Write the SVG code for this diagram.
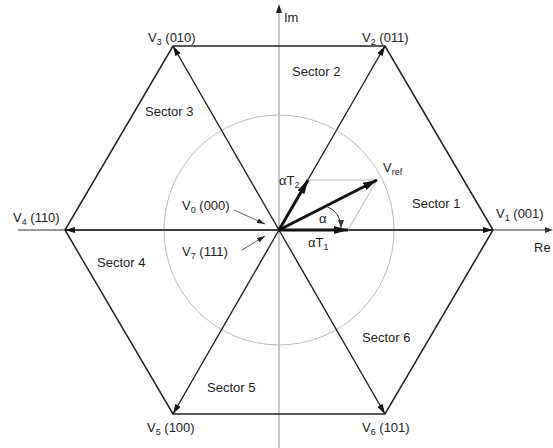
<svg xmlns="http://www.w3.org/2000/svg" width="553" height="448" viewBox="0 0 553 448">
<defs>
<marker id="ah" viewBox="0 0 10 6" refX="10" refY="3" markerWidth="10" markerHeight="6" markerUnits="userSpaceOnUse" orient="auto">
<path d="M0,0 L10,3 L0,6 Z" fill="#111"/>
</marker>
<marker id="ahb" viewBox="0 0 14 8" refX="14" refY="4" markerWidth="14" markerHeight="8" markerUnits="userSpaceOnUse" orient="auto">
<path d="M0,0 L14,4 L0,8 Z" fill="#111"/>
</marker>
<marker id="ahs" viewBox="0 0 8 5" refX="8" refY="2.5" markerWidth="8" markerHeight="5" markerUnits="userSpaceOnUse" orient="auto">
<path d="M0,0 L8,2.5 L0,5 Z" fill="#222"/>
</marker>
<marker id="ahg" viewBox="0 0 8 6" refX="8" refY="3" markerWidth="8" markerHeight="6" markerUnits="userSpaceOnUse" orient="auto">
<path d="M0,0 L8,3 L0,6 Z" fill="#333"/>
</marker>
</defs>
<style>
text{font-family:"Liberation Sans",Arial,sans-serif;font-size:13px;fill:#222}
.sub{font-size:9px}
.edge{fill:none;stroke:#222;stroke-width:1.5}
.spoke{stroke:#222;stroke-width:1.4;marker-end:url(#ah)}
.thick{stroke:#111;stroke-width:3;marker-end:url(#ahb)}
.gray{fill:none;stroke:#bbb;stroke-width:1}
.lbl{stroke:#333;stroke-width:0.8;fill:none;marker-end:url(#ahs)}
</style>
<g id="axes">
<line x1="279" y1="448" x2="279" y2="12" stroke="#c8c8c8" stroke-width="2"/>
<path d="M279,4 L282,13 L276,13 Z" fill="#222"/>
<line x1="18" y1="230" x2="546" y2="230" stroke="#333" stroke-width="1"/>
<path d="M553,230 L545,227 L545,233 Z" fill="#333"/>
<text x="284" y="22">Im</text>
<text x="534" y="252">Re</text>
</g>
<g id="circle"><circle cx="279" cy="230" r="115" class="gray"/></g>
<g id="hexagon"><polygon class="edge" points="493,230 385,46 173,46 65,230 173,414 385,414"/></g>
<g id="connectors">
<line class="spoke" x1="279" y1="230" x2="493" y2="230"/>
<line class="spoke" x1="279" y1="230" x2="385" y2="46"/>
<line class="spoke" x1="279" y1="230" x2="173" y2="46"/>
<line class="spoke" x1="279" y1="230" x2="65" y2="230"/>
<line class="spoke" x1="279" y1="230" x2="173" y2="414"/>
<line class="spoke" x1="279" y1="230" x2="385" y2="414"/>
<line class="gray" x1="308" y1="180" x2="377" y2="180"/>
<line class="gray" x1="348" y1="230" x2="377" y2="180"/>
<line class="thick" x1="279" y1="230" x2="348" y2="230"/>
<line class="thick" x1="279" y1="230" x2="308" y2="180"/>
<line class="thick" x1="279" y1="230" x2="377" y2="180"/>
<path d="M326,206 Q341,212 341,228" fill="none" stroke="#333" stroke-width="1" marker-end="url(#ahg)"/>
<line class="lbl" x1="234" y1="210" x2="265" y2="224"/>
<line class="lbl" x1="242" y1="250" x2="265" y2="236"/>
</g>
<g id="v1"><text x="496" y="218">V<tspan class="sub" dy="3">1</tspan><tspan dy="-3"> (001)</tspan></text></g>
<g id="v2"><text x="362" y="42">V<tspan class="sub" dy="3">2</tspan><tspan dy="-3"> (011)</tspan></text></g>
<g id="v3"><text x="148" y="42">V<tspan class="sub" dy="3">3</tspan><tspan dy="-3"> (010)</tspan></text></g>
<g id="v4"><text x="13" y="222">V<tspan class="sub" dy="3">4</tspan><tspan dy="-3"> (110)</tspan></text></g>
<g id="v5"><text x="147" y="432">V<tspan class="sub" dy="3">5</tspan><tspan dy="-3"> (100)</tspan></text></g>
<g id="v6"><text x="362" y="432">V<tspan class="sub" dy="3">6</tspan><tspan dy="-3"> (101)</tspan></text></g>
<g id="v0"><text x="182" y="210">V<tspan class="sub" dy="3">0</tspan><tspan dy="-3"> (000)</tspan></text></g>
<g id="v7"><text x="182" y="256">V<tspan class="sub" dy="3">7</tspan><tspan dy="-3"> (111)</tspan></text></g>
<g id="vref"><text x="383" y="172">V<tspan class="sub" dy="3">ref</tspan></text></g>
<g id="at2"><text x="279" y="185">αT<tspan class="sub" dy="3">2</tspan></text></g>
<g id="at1"><text x="308" y="247">αT<tspan class="sub" dy="3">1</tspan></text></g>
<g id="alpha"><text x="319" y="223">α</text></g>
<g id="sectors">
<text x="412" y="208">Sector 1</text>
<text x="292" y="76">Sector 2</text>
<text x="145" y="116">Sector 3</text>
<text x="97" y="267">Sector 4</text>
<text x="207" y="392">Sector 5</text>
<text x="362" y="342">Sector 6</text>
</g>
</svg>
